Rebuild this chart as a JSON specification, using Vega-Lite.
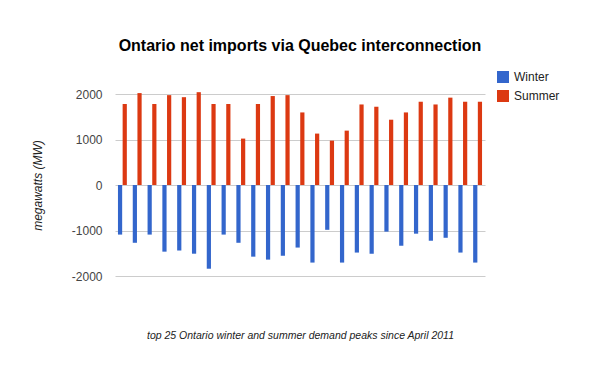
{
  "$schema": "https://vega.github.io/schema/vega-lite/v6.json",
  "width": 370,
  "height": 182,
  "autosize": {"type": "none"},
  "padding": {"left": 115, "top": 94, "right": 115, "bottom": 95},
  "background": "white",
  "config": {
    "font": "Liberation Sans",
    "view": {"stroke": null}
  },
  "title": {
    "text": "Ontario net imports via Quebec interconnection",
    "anchor": "middle",
    "frame": "group",
    "fontSize": 16,
    "fontWeight": "bold",
    "color": "#000000",
    "offset": 17
  },
  "datasets": {
    "peaks": [
      {"peak": 1, "season": "Winter", "mw": -1090}, {"peak": 1, "season": "Summer", "mw": 1780},
      {"peak": 2, "season": "Winter", "mw": -1270}, {"peak": 2, "season": "Summer", "mw": 2020},
      {"peak": 3, "season": "Winter", "mw": -1090}, {"peak": 3, "season": "Summer", "mw": 1780},
      {"peak": 4, "season": "Winter", "mw": -1465}, {"peak": 4, "season": "Summer", "mw": 1975},
      {"peak": 5, "season": "Winter", "mw": -1440}, {"peak": 5, "season": "Summer", "mw": 1930},
      {"peak": 6, "season": "Winter", "mw": -1510}, {"peak": 6, "season": "Summer", "mw": 2040},
      {"peak": 7, "season": "Winter", "mw": -1840}, {"peak": 7, "season": "Summer", "mw": 1780},
      {"peak": 8, "season": "Winter", "mw": -1090}, {"peak": 8, "season": "Summer", "mw": 1780},
      {"peak": 9, "season": "Winter", "mw": -1270}, {"peak": 9, "season": "Summer", "mw": 1020},
      {"peak": 10, "season": "Winter", "mw": -1575}, {"peak": 10, "season": "Summer", "mw": 1780},
      {"peak": 11, "season": "Winter", "mw": -1640}, {"peak": 11, "season": "Summer", "mw": 1955},
      {"peak": 12, "season": "Winter", "mw": -1555}, {"peak": 12, "season": "Summer", "mw": 1975},
      {"peak": 13, "season": "Winter", "mw": -1375}, {"peak": 13, "season": "Summer", "mw": 1595},
      {"peak": 14, "season": "Winter", "mw": -1705}, {"peak": 14, "season": "Summer", "mw": 1130},
      {"peak": 15, "season": "Winter", "mw": -985}, {"peak": 15, "season": "Summer", "mw": 975},
      {"peak": 16, "season": "Winter", "mw": -1705}, {"peak": 16, "season": "Summer", "mw": 1195},
      {"peak": 17, "season": "Winter", "mw": -1485}, {"peak": 17, "season": "Summer", "mw": 1770},
      {"peak": 18, "season": "Winter", "mw": -1510}, {"peak": 18, "season": "Summer", "mw": 1720},
      {"peak": 19, "season": "Winter", "mw": -1025}, {"peak": 19, "season": "Summer", "mw": 1435},
      {"peak": 20, "season": "Winter", "mw": -1335}, {"peak": 20, "season": "Summer", "mw": 1595},
      {"peak": 21, "season": "Winter", "mw": -1070}, {"peak": 21, "season": "Summer", "mw": 1830},
      {"peak": 22, "season": "Winter", "mw": -1225}, {"peak": 22, "season": "Summer", "mw": 1770},
      {"peak": 23, "season": "Winter", "mw": -1160}, {"peak": 23, "season": "Summer", "mw": 1920},
      {"peak": 24, "season": "Winter", "mw": -1485}, {"peak": 24, "season": "Summer", "mw": 1830},
      {"peak": 25, "season": "Winter", "mw": -1705}, {"peak": 25, "season": "Summer", "mw": 1830}
    ]
  },
  "layer": [
    {
      "data": {"name": "peaks"},
      "mark": {"type": "bar"},
      "encoding": {
        "x": {
          "field": "peak",
          "type": "ordinal",
          "scale": {"paddingInner": 0.4, "paddingOuter": 0.2},
          "axis": {
            "labels": false,
            "ticks": false,
            "domain": false,
            "title": "top 25 Ontario winter and summer demand peaks since April 2011",
            "titleFont": "Liberation Sans",
            "titleFontSize": 10.5,
            "titleFontStyle": "italic",
            "titleFontWeight": "normal",
            "titleColor": "#222222",
            "titlePadding": 54
          }
        },
        "xOffset": {
          "field": "season",
          "type": "nominal",
          "sort": ["Winter", "Summer"],
          "scale": {"paddingInner": 0.1}
        },
        "y": {
          "field": "mw",
          "type": "quantitative",
          "scale": {"domain": [-2000, 2000], "nice": false},
          "axis": {
            "values": [-2000, -1000, 0, 1000, 2000],
            "labelExpr": "toString(datum.value)",
            "grid": true,
            "gridColor": "#cccccc",
            "domain": false,
            "ticks": false,
            "labelPadding": 13,
            "labelFontSize": 12,
            "labelColor": "#444444",
            "title": "megawatts (MW)",
            "titleFontSize": 12,
            "titleFontStyle": "italic",
            "titleFontWeight": "normal",
            "titleColor": "#222222",
            "titleX": -78,
            "titleY": 91,
            "titleAngle": -90,
            "titleAlign": "center",
            "titleBaseline": "middle"
          }
        },
        "color": {
          "field": "season",
          "type": "nominal",
          "scale": {"domain": ["Winter", "Summer"], "range": ["#3366cc", "#dc3912"]},
          "legend": {
            "title": null,
            "orient": "none",
            "legendX": 382,
            "legendY": -23,
            "symbolType": "square",
            "symbolSize": 144,
            "symbolStrokeWidth": 0,
            "labelFontSize": 12,
            "labelColor": "#222222",
            "labelOffset": 5,
            "rowPadding": 7
          }
        }
      }
    },
    {
      "mark": {"type": "rule", "color": "#333333", "strokeWidth": 1.5},
      "encoding": {"y": {"datum": 0}}
    }
  ]
}
